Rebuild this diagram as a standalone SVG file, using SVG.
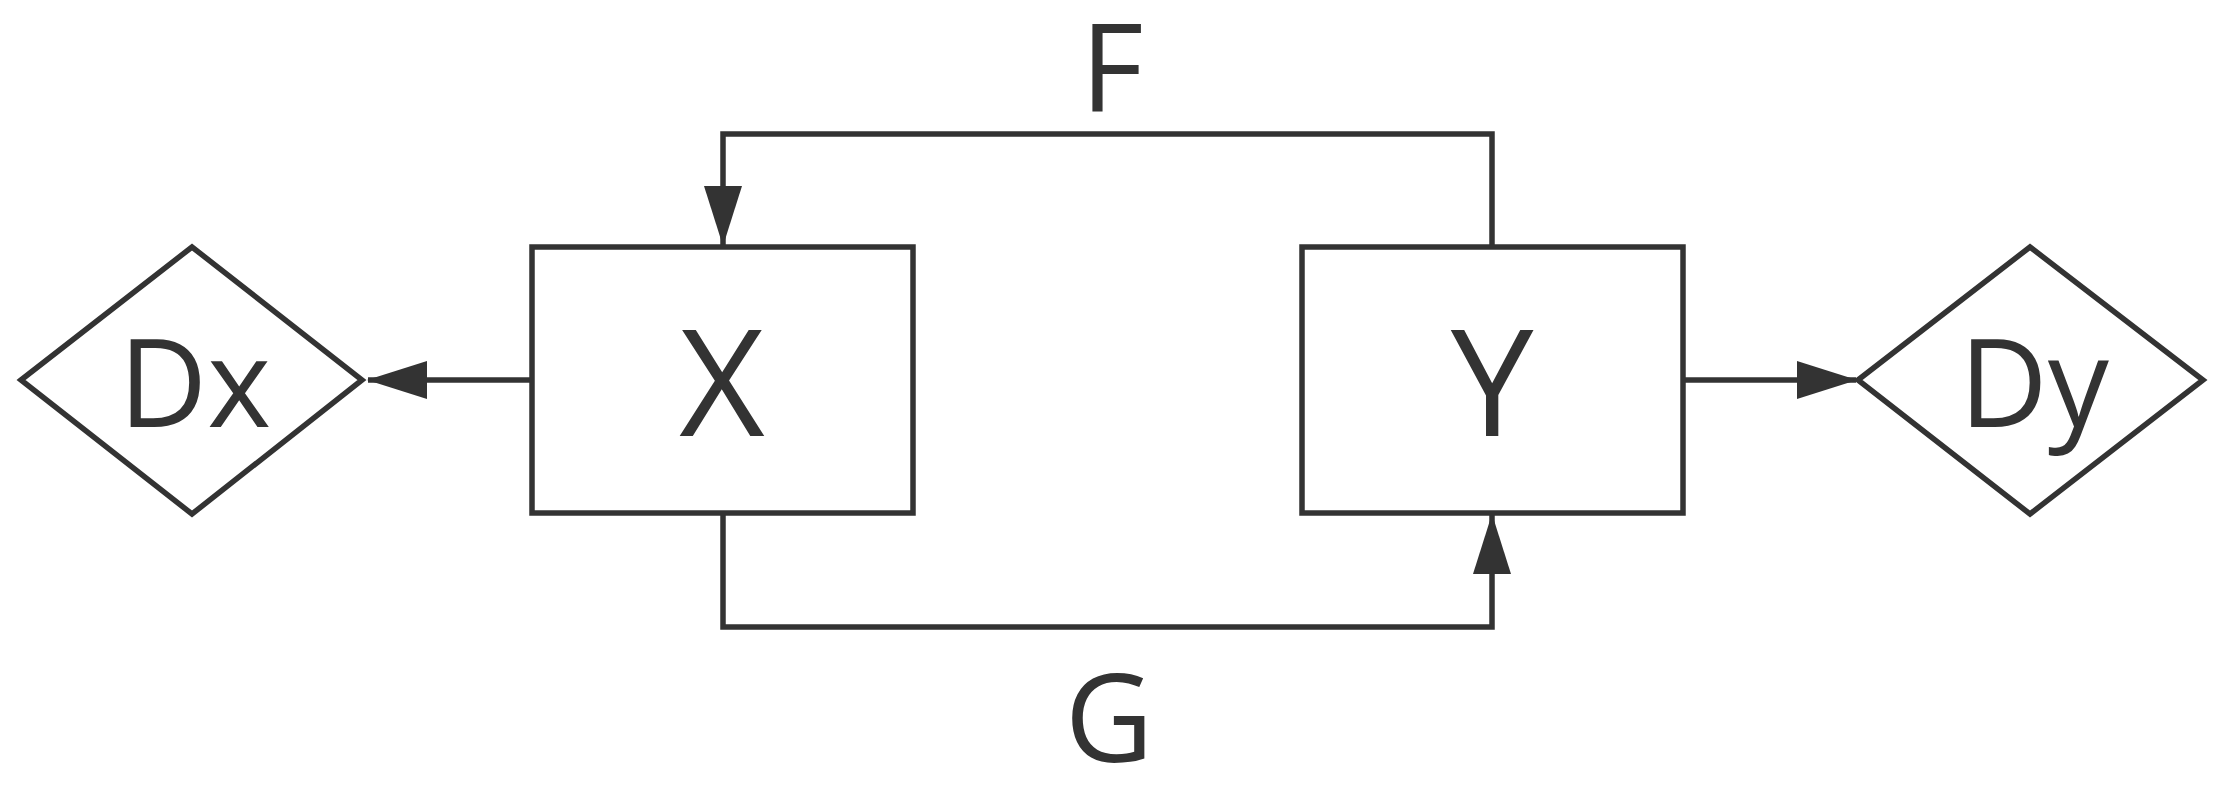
<svg xmlns="http://www.w3.org/2000/svg" width="2221" height="786" viewBox="0 0 2221 786">
<style>
.shape{fill:#fff;stroke:#333;stroke-width:5.5}
.conn{fill:none;stroke:#333;stroke-width:5.5}
text{font-family:"Open Sans","Noto Sans",sans-serif;fill:#333;text-anchor:middle}
.big{font-size:148px}
.mid{font-size:122px}
</style>
<defs>
<marker id="ah" markerWidth="60" markerHeight="38" refX="59" refY="19" orient="auto" markerUnits="userSpaceOnUse">
<path d="M0,0 L60,19 L0,38 Z" fill="#333"/>
</marker>
</defs>
<rect width="2221" height="786" fill="#fff"/>
<g id="connectors">
<path class="conn" d="M532,380 L368,380" marker-end="url(#ah)"/>
<path class="conn" d="M1683,380 L1856,380" marker-end="url(#ah)"/>
<path class="conn" d="M1492,247 L1492,134 L723,134 L723,245" marker-end="url(#ah)"/>
<path class="conn" d="M723,513 L723,627 L1492,627 L1492,515" marker-end="url(#ah)"/>
<text class="mid" x="1112" y="112">F</text>
<text class="mid" x="1109" y="762">G</text>
</g>
<g id="Dx">
<polygon class="shape" points="21,380 192,247 362,380 192,514"/>
<text class="mid" x="195" y="427">Dx</text>
</g>
<g id="X">
<rect class="shape" x="532" y="247" width="381" height="266"/>
<text class="big" x="722" y="436">X</text>
</g>
<g id="Y">
<rect class="shape" x="1302" y="247" width="381" height="266"/>
<text class="big" x="1492" y="436">Y</text>
</g>
<g id="Dy">
<polygon class="shape" points="1858,380 2030,247 2203,380 2030,514"/>
<text class="mid" x="2034" y="427">Dy</text>
</g>
</svg>
